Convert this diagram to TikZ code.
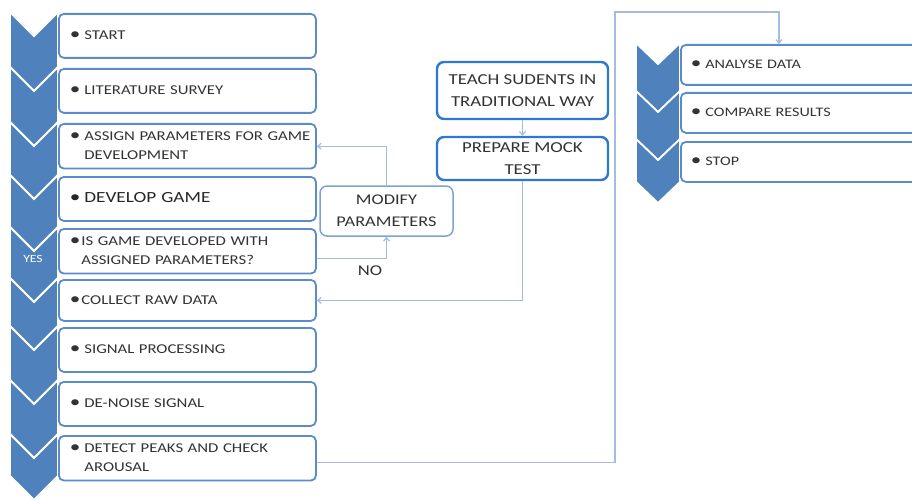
\documentclass[tikz,border=0pt]{standalone}
\usepackage{fontspec}
\setmainfont{Carlito}[FakeStretch=1.24]
\usetikzlibrary{arrows.meta}

\definecolor{chevblue}{HTML}{4F81BD}
\definecolor{boxblue}{HTML}{5B8CC9}
\definecolor{midblue}{HTML}{2F78D2}
\definecolor{linkblue}{HTML}{A3BCE0}
\definecolor{txtgray}{HTML}{333333}

% bullet item, optional gap after the bullet
\newcommand{\bul}[2][4pt]{\begin{tabular}[c]{@{}l@{\hspace{#1}}l@{}}{\fontsize{17}{0}\selectfont\textbullet} & #2\end{tabular}}
% chevron: x, top, bottom, width, depth
\newcommand{\chevron}[5]{%
  \fill[chevblue, draw=white, line width=1.8pt, line join=miter]
    (#1,#2) -- ++(#4/2,#5) -- ++(#4/2,-#5) -- (#1+#4,#3) -- ++(-#4/2,#5)
    -- (#1,#3) -- cycle;}

\begin{document}
\begin{tikzpicture}[%
      x=1pt, y=-1pt,
      every node/.style={font={\fontsize{13.5}{19}\selectfont}, text=txtgray},
      stepbox/.style={draw=boxblue, fill=white, line width=1.8pt,
                      rounded corners=5pt, anchor=north west,
                      minimum width=257pt, minimum height=44pt,
                      text width=235pt, inner xsep=11pt, align=left},
      endbox/.style={stepbox, minimum width=260pt, minimum height=40pt,
                     text width=240pt, inner xsep=10pt,
                     font={\fontsize{13}{18}\selectfont}},
      midbox/.style={draw=midblue, fill=white, line width=2.4pt,
                     rounded corners=7pt, align=center,
                     font={\fontsize{15.2}{22}\selectfont}},
      link/.style={draw=linkblue, line width=1.2pt,
                   -{Straight Barb[length=3.5pt, width=6pt]}}
    ]
    \useasboundingbox (0,0) rectangle (912,500);

    % chevrons, left column
    \foreach \t/\b in {12/67, 67/122, 122/175, 175/227, 227/278,
                       278/326, 326/380, 380/434, 434/476}
      {\chevron{10}{\t}{\b}{48}{24}}
    % chevrons, right column
    \foreach \t/\b in {43/91, 91/139, 139/182}
      {\chevron{636}{\t}{\b}{44}{21}}

    % left column
    \node[stepbox] (start)   at (58,13)  {\bul{START}};
    \node[stepbox] (survey)  at (58,68)  {\bul{LITERATURE SURVEY}};
    \node[stepbox] (assign)  at (58,123) {\bul{ASSIGN PARAMETERS FOR GAME\\ & DEVELOPMENT}};
    \node[stepbox, font={\fontsize{15.5}{20}\selectfont}, text=black!85]
                   (develop) at (58,176) {\bul{DEVELOP GAME}};
    \node[stepbox, minimum height=41pt]
                   (isgame)  at (58,228) {\bul[1pt]{IS GAME DEVELOPED WITH\\ & ASSIGNED PARAMETERS?}};
    \node[stepbox, minimum height=41pt]
                   (collect) at (58,279) {\bul[1pt]{COLLECT RAW DATA}};
    \node[stepbox] (signal)  at (58,327) {\bul{SIGNAL PROCESSING}};
    \node[stepbox] (denoise) at (58,381) {\bul{DE-NOISE SIGNAL}};
    \node[stepbox] (detect)  at (58,435) {\bul{DETECT PEAKS AND CHECK\\ & AROUSAL}};
    \node[text=white, font={\fontsize{11}{13}\selectfont}] (yes) at (33,259) {YES};

    % middle
    \node[midbox, minimum width=171pt, minimum height=57pt]
          (teach)   at (522.5,90.5)  {TEACH SUDENTS IN\\TRADITIONAL WAY};
    \node[midbox, minimum width=171pt, minimum height=43pt, inner sep=1pt]
          (prepare) at (522.5,158.5) {PREPARE MOCK\\TEST};
    \node[midbox, draw=boxblue!80, line width=1.5pt, minimum width=133pt,
          minimum height=50pt, font={\fontsize{14.8}{22}\selectfont}]
          (modify)  at (386.5,211)   {MODIFY\\PARAMETERS};
    \node[font={\fontsize{15}{18}\selectfont}] (no) at (370,271) {NO};

    % right column
    \node[endbox] (analyse) at (680,44)  {\bul{ANALYSE DATA}};
    \node[endbox] (compare) at (680,92)  {\bul{COMPARE RESULTS}};
    \node[endbox] (stop)    at (680,141) {\bul{STOP}};

    % connectors
    \coordinate (turn) at (615,12);
    \draw[link] (teach) -- (prepare);
    \draw[link] (prepare.south) |- (collect.east);
    \draw[link] ([yshift=-7pt]isgame.east) -| (modify.south);
    \draw[link] (modify.north) |- (assign.east);
    \draw[link] ([yshift=-4pt]detect.east) -| (turn) -| ([xshift=-32pt]analyse.north);
\end{tikzpicture}
\end{document}
